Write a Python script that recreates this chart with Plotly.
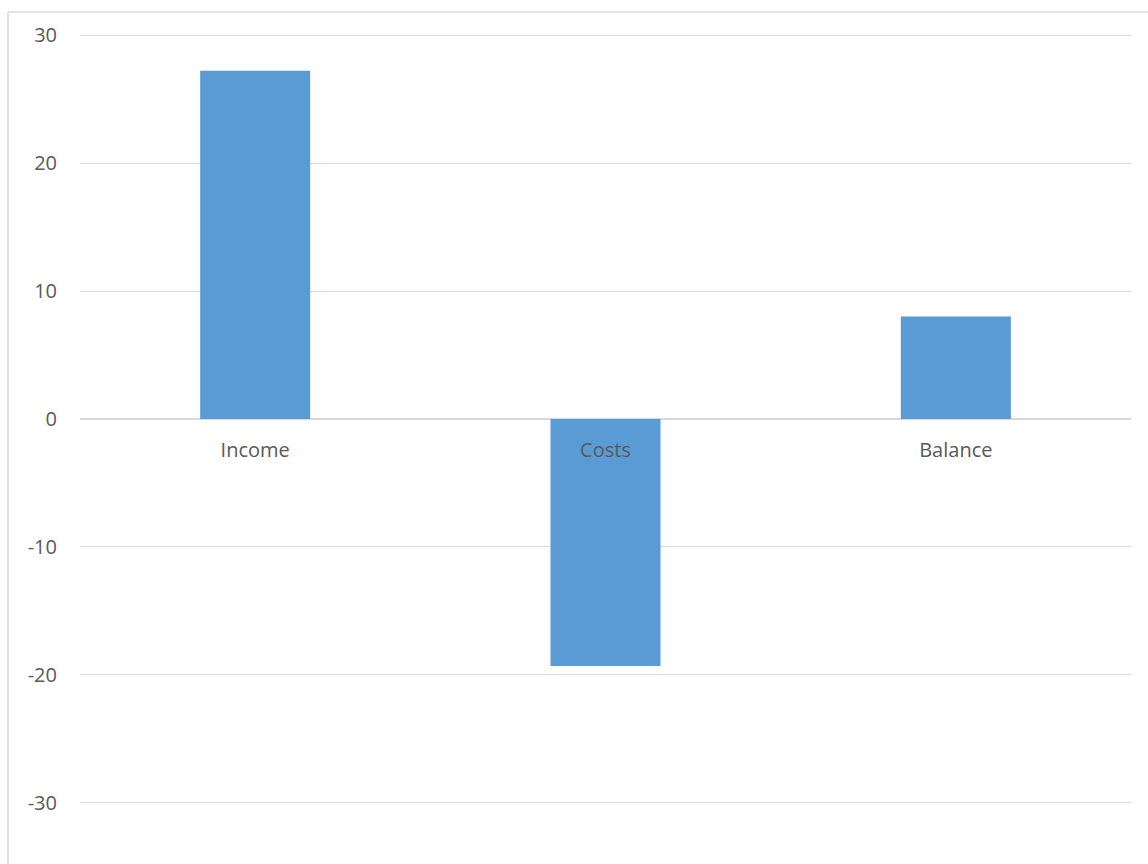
import plotly.graph_objects as go

# Budget summary values
categories = ["Income", "Costs", "Balance"]
values = [27.2, -19.3, 8.0]
y_ticks = [-30, -20, -10, 0, 10, 20, 30]
y_tick_text = [str(v) for v in y_ticks]  # plain hyphen for negatives

y_min, y_max = -34.77, 31.8
zero_pos = (0 - y_min) / (y_max - y_min)

fig = go.Figure(
    go.Bar(
        x=categories,
        y=values,
        marker=dict(color="#5b9bd5", line=dict(width=0)),
    )
)

fig.update_layout(
    width=1148,
    height=864,
    margin=dict(l=80, r=17, t=12, b=0),
    paper_bgcolor="white",
    plot_bgcolor="white",
    bargap=0.686,
    showlegend=False,
    font=dict(family="Open Sans", size=20, color="#595959"),
    xaxis=dict(
        type="category",
        anchor="free",
        position=zero_pos,
        showline=False,
        showgrid=False,
        ticks="",
        ticklabelstandoff=17,
        tickfont=dict(family="Open Sans", size=20, color="#595959"),
    ),
    yaxis=dict(
        range=[y_min, y_max],
        tickvals=y_ticks,
        ticktext=y_tick_text,
        showgrid=True,
        gridcolor="#d9d9d9",
        gridwidth=1,
        zeroline=True,
        zerolinecolor="#d9d9d9",
        zerolinewidth=2,
        showline=False,
        ticks="",
        ticklabelstandoff=22,
        tickfont=dict(family="Open Sans", size=20, color="#595959"),
    ),
    shapes=[
        # chart frame: left and top edges
        dict(type="line", xref="paper", yref="paper",
             x0=-72 / 1051, x1=1.1, y0=1, y1=1,
             line=dict(color="#d9d9d9", width=1.5)),
        dict(type="line", xref="paper", yref="paper",
             x0=-72 / 1051, x1=-72 / 1051, y0=1, y1=-0.1,
             line=dict(color="#d9d9d9", width=1.5)),
    ],
)

fig.write_html("out.html")
